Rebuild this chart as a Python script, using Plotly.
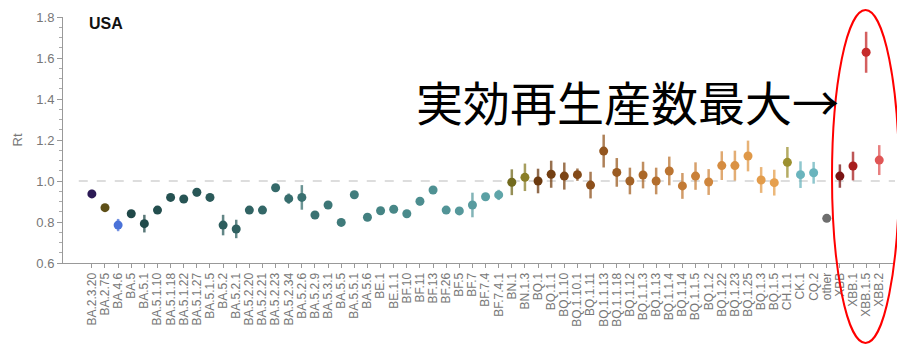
import plotly.graph_objects as go

variants = ["BA.2.3.20", "BA.2.75", "BA.4.6", "BA.5", "BA.5.1", "BA.5.1.10", "BA.5.1.18",
            "BA.5.1.22", "BA.5.1.27", "BA.5.1.5", "BA.5.2", "BA.5.2.1", "BA.5.2.20",
            "BA.5.2.21", "BA.5.2.23", "BA.5.2.34", "BA.5.2.6", "BA.5.2.9", "BA.5.3.1",
            "BA.5.5", "BA.5.5.1", "BA.5.6", "BE.1", "BE.1.1", "BF.10", "BF.11", "BF.13",
            "BF.26", "BF.5", "BF.7", "BF.7.4", "BF.7.4.1", "BN.1", "BN.1.3", "BQ.1",
            "BQ.1.1", "BQ.1.10", "BQ.1.10.1", "BQ.1.11", "BQ.1.1.13", "BQ.1.1.18",
            "BQ.1.12", "BQ.1.1.3", "BQ.1.13", "BQ.1.1.4", "BQ.1.14", "BQ.1.1.5", "BQ.1.2",
            "BQ.1.22", "BQ.1.23", "BQ.1.25", "BQ.1.3", "BQ.1.5", "CH.1.1", "CK.1", "CQ.2",
            "other", "XBB", "XBB.1", "XBB.1.5", "XBB.2"]

rt = [0.937, 0.870, 0.785, 0.840, 0.792, 0.858, 0.920, 0.912, 0.945, 0.920,
      0.785, 0.766, 0.858, 0.858, 0.967, 0.914, 0.920, 0.834, 0.883, 0.798,
      0.933, 0.823, 0.855, 0.862, 0.840, 0.901, 0.956, 0.858, 0.854, 0.883,
      0.923, 0.932, 0.994, 1.018, 1.000, 1.033, 1.024, 1.031, 0.980, 1.146,
      1.042, 1.000, 1.029, 1.000, 1.049, 0.976, 1.024, 0.995, 1.075, 1.075,
      1.122, 1.005, 0.992, 1.091, 1.031, 1.040, 0.818, 1.024, 1.073, 1.628, 1.102]

rt_err = [0.020, 0.010, 0.030, 0.010, 0.043, 0.012, 0.015, 0.012, 0.020, 0.012,
          0.050, 0.045, 0.010, 0.010, 0.010, 0.025, 0.060, 0.010, 0.010, 0.010,
          0.010, 0.010, 0.010, 0.010, 0.010, 0.020, 0.010, 0.010, 0.010, 0.060,
          0.012, 0.025, 0.063, 0.067, 0.060, 0.066, 0.066, 0.030, 0.065, 0.080,
          0.070, 0.065, 0.065, 0.065, 0.070, 0.063, 0.067, 0.063, 0.070, 0.073,
          0.075, 0.063, 0.063, 0.075, 0.065, 0.053, 0.000, 0.057, 0.070, 0.100, 0.073]

colors = ["#2b1a55", "#5e5018", "#4a72d8", "#1f4848", "#214b4b", "#234e4e", "#255151",
          "#275454", "#295757", "#2b5a5a", "#2d5d5d", "#2f6060", "#316363", "#336767",
          "#356a6a", "#376d6d", "#397070", "#3b7373", "#3d7777", "#3f7a7a", "#417d7d",
          "#438080", "#458484", "#488787", "#4a8a8b", "#4c8d8f", "#4f9193", "#529497",
          "#55989b", "#589b9f", "#5ba0a4", "#5fa5a9", "#726a1e", "#8a7e28", "#6b3a10",
          "#744013", "#7c4516", "#844b19", "#8c501c", "#93561f", "#9b5c22", "#a36226",
          "#ab6829", "#b36e2d", "#bb7431", "#c27a35", "#c98039", "#cf863d", "#d58c41",
          "#da9245", "#df9848", "#e39c4b", "#e6a04e", "#9c9030", "#6ab4bd", "#6ab4bd",
          "#6e6e6e", "#7a1414", "#a81e1e", "#c62a2a", "#e05555"]


def rgba(h, a):
    h = h.lstrip("#")
    return "rgba(%d,%d,%d,%.2f)" % (int(h[0:2], 16), int(h[2:4], 16), int(h[4:6], 16), a)


fig = go.Figure()
for name, v, e, c in zip(variants, rt, rt_err, colors):
    fig.add_trace(go.Scatter(
        x=[name], y=[v], mode="markers",
        marker=dict(size=9, color=c, line=dict(width=0)),
        error_y=dict(type="data", array=[e], visible=True, color=rgba(c, 0.75),
                     thickness=2.5, width=0),
        showlegend=False, hoverinfo="x+y"))

fig.add_shape(type="line", xref="x", yref="y", x0=-1, x1=61.2, y0=1.0, y1=1.0,
              line=dict(color="#bbbbbb", width=1, dash="dash"), layer="below")

# paper coordinates of the plot area: x 63..895 px, y 17..263 px
fig.add_shape(type="circle", xref="paper", yref="paper",
              x0=(832 - 63) / 832, x1=(899 - 63) / 832,
              y0=(263 - 343) / 246, y1=(263 - 10) / 246,
              line=dict(color="#ff0000", width=2))

fig.add_annotation(text="<b>USA</b>", xref="paper", yref="paper",
                   x=(87 - 63) / 832, y=(263 - 23) / 246, xanchor="left", yanchor="middle",
                   showarrow=False, font=dict(family="Liberation Sans, Arial", size=16, color="#111"))

fig.add_annotation(text="実効再生産数最大→", xref="paper", yref="paper",
                   x=(627 - 63) / 832, y=(263 - 101) / 246, xanchor="center", yanchor="middle",
                   showarrow=False,
                   font=dict(family="Noto Sans CJK JP", size=47, color="#000"))

fig.update_layout(
    width=897, height=344,
    margin=dict(l=63, r=2, t=17, b=81),
    paper_bgcolor="white", plot_bgcolor="white",
    xaxis=dict(
        type="category", categoryorder="array", categoryarray=variants,
        range=[-2.2, 61.2], tickmode="linear", tick0=0, dtick=1,
        tickangle=-90, showgrid=False, zeroline=False,
        showline=True, linecolor="#999", linewidth=1,
        ticks="outside", ticklen=4, tickcolor="#999",
        tickfont=dict(family="Liberation Sans, Arial", size=12, color="#777"),
    ),
    yaxis=dict(
        range=[0.6, 1.8], tickvals=[0.6, 0.8, 1.0, 1.2, 1.4, 1.6, 1.8],
        ticktext=["0.6", "0.8", "1.0", "1.2", "1.4", "1.6", "1.8"],
        showgrid=False, zeroline=False, showline=True, linecolor="#999", linewidth=1,
        ticks="outside", ticklen=5, tickcolor="#999",
        minor=dict(dtick=0.05, ticks="outside", ticklen=3, tickcolor="#aaa", showgrid=False),
        tickfont=dict(family="Liberation Sans, Arial", size=13, color="#777"),
        title=dict(text="Rt", font=dict(family="Liberation Sans, Arial", size=13, color="#777"),
                   standoff=10),
    ),
)

fig.write_html("out.html")
